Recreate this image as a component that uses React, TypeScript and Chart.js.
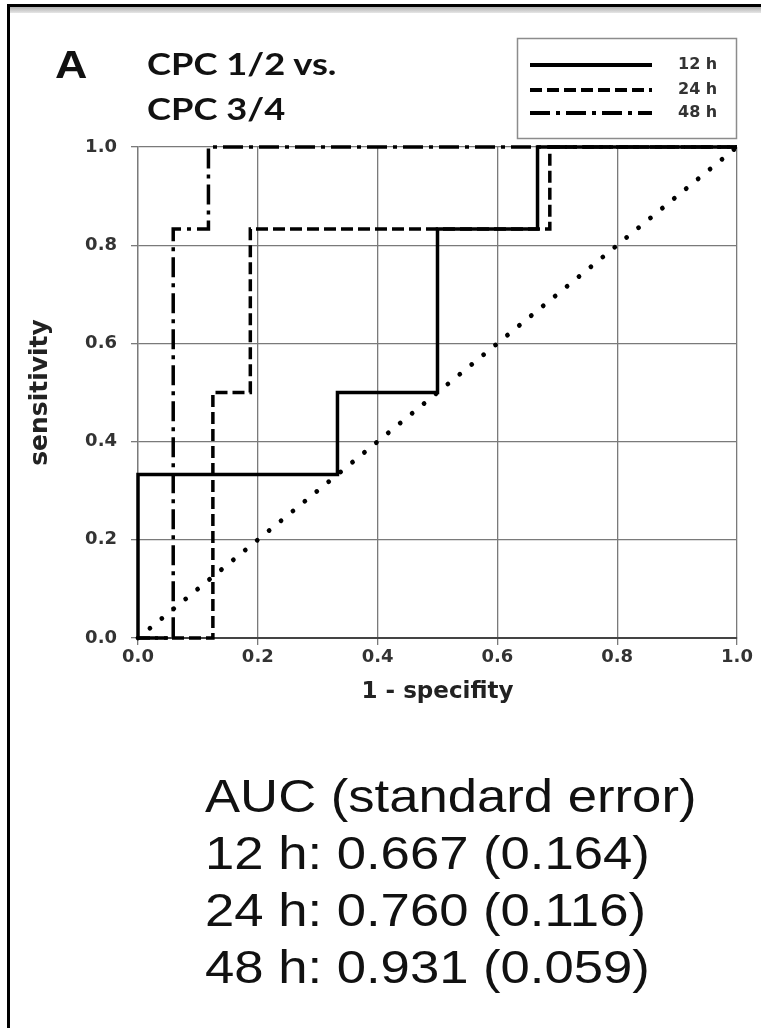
import React, { useEffect, useRef } from 'react';
import { Chart, registerables } from 'chart.js';

Chart.register(...registerables);

// ---- data ----
const SERIES_LABELS = ['12 h', '24 h', '48 h'];
const FPR_12H = [0, 0, 0.333, 0.333, 0.5, 0.5, 0.667, 0.667, 1.0];
const TPR_12H = [0, 0.333, 0.333, 0.5, 0.5, 0.833, 0.833, 1.0, 1.0];
const FPR_24H = [0, 0.125, 0.125, 0.1875, 0.1875, 0.6875, 0.6875, 1.0];
const TPR_24H = [0, 0, 0.5, 0.5, 0.833, 0.833, 1.0, 1.0];
const FPR_48H = [0, 0.0588, 0.0588, 0.1176, 0.1176, 1.0];
const TPR_48H = [0, 0, 0.833, 0.833, 1.0, 1.0];
const REF_X = [0, 1];
const REF_Y = [0, 1];
const AXIS_TICKS = [0, 0.2, 0.4, 0.6, 0.8, 1.0];
const X_TITLE = '1 - specifity';
const Y_TITLE = 'sensitivity';
const PANEL_LETTER = 'A';
const PANEL_TITLE = ['CPC 1/2 vs.', 'CPC 3/4'];
const AUC_LINES = [
  'AUC (standard error)',
  '12 h: 0.667 (0.164)',
  '24 h: 0.760 (0.116)',
  '48 h: 0.931 (0.059)',
];

const toPts = (xs: number[], ys: number[]) => xs.map((x, i) => ({ x, y: ys[i] }));

const GRID = '#7a7a7a';

const boxLegend = {
  id: 'boxLegend',
  afterDraw(chart: any) {
    const ctx = chart.ctx;
    ctx.save();
    ctx.strokeStyle = '#8c8c8c';
    ctx.lineWidth = 1.5;
    ctx.setLineDash([]);
    ctx.strokeRect(517.5, 38.5, 219, 100);
    const ys = [65, 90, 113];
    for (let i = 0; i < 3; i++) {
      const ds = chart.data.datasets[i];
      ctx.beginPath();
      ctx.setLineDash(ds.borderDash || []);
      ctx.lineWidth = 4;
      ctx.strokeStyle = ds.borderColor;
      ctx.lineCap = 'butt';
      ctx.moveTo(530, ys[i]);
      ctx.lineTo(652, ys[i]);
      ctx.stroke();
      ctx.setLineDash([]);
      ctx.fillStyle = '#333';
      ctx.font = 'bold 16px "DejaVu Sans"';
      ctx.textBaseline = 'middle';
      ctx.textAlign = 'left';
      ctx.fillText(ds.label, 678, ys[i]);
    }
    ctx.restore();
  },
};

export default function App() {
  const ref = useRef<HTMLCanvasElement | null>(null);

  useEffect(() => {
    if (!ref.current) return;
    const tickFont = { family: '"DejaVu Sans"', weight: 'bold' as const, size: 18 };
    const chart = new Chart(ref.current, {
      type: 'line',
      data: {
        datasets: [
          {
            label: SERIES_LABELS[0],
            data: toPts(FPR_12H, TPR_12H),
            borderColor: '#000',
            borderWidth: 3.5,
            borderJoinStyle: 'miter',
            pointRadius: 0,
            fill: false,
            clip: 6,
          },
          {
            label: SERIES_LABELS[1],
            data: toPts(FPR_24H, TPR_24H),
            borderColor: '#000',
            borderWidth: 3.5,
            borderDash: [12, 5],
            borderJoinStyle: 'miter',
            pointRadius: 0,
            fill: false,
            clip: 6,
          },
          {
            label: SERIES_LABELS[2],
            data: toPts(FPR_48H, TPR_48H),
            borderColor: '#000',
            borderWidth: 3.5,
            borderDash: [20, 6, 4, 6],
            borderJoinStyle: 'miter',
            pointRadius: 0,
            fill: false,
            clip: 6,
          },
          {
            label: 'reference',
            data: toPts(REF_X, REF_Y),
            borderColor: '#000',
            borderWidth: 4.8,
            borderDash: [0.01, 15.4],
            borderCapStyle: 'round',
            pointRadius: 0,
            fill: false,
            clip: 6,
          },
        ] as any,
      },
      options: {
        animation: false,
        responsive: false,
        layout: { padding: { left: 0, top: 147, right: 24, bottom: 310 } },
        plugins: { legend: { display: false }, tooltip: { enabled: false } },
        scales: {
          x: {
            type: 'linear',
            min: 0,
            max: 1,
            afterFit: (s: any) => { s.height = 80; },
            afterBuildTicks: (s: any) => { s.ticks = AXIS_TICKS.map((v) => ({ value: v })); },
            ticks: {
              callback: (v: any) => Number(v).toFixed(1),
              font: tickFont,
              color: '#333',
              padding: 2,
              maxRotation: 0,
            },
            grid: { color: GRID, lineWidth: 1.3, tickLength: 7, tickColor: GRID },
            border: { color: '#444', width: 2 },
            title: {
              display: true,
              text: X_TITLE,
              font: { family: '"DejaVu Sans"', weight: 'bold', size: 23 },
              color: '#222',
              padding: { top: 0, bottom: 12 },
            },
          },
          y: {
            type: 'linear',
            min: 0,
            max: 1,
            afterFit: (s: any) => { s.width = 138; },
            afterBuildTicks: (s: any) => { s.ticks = AXIS_TICKS.map((v) => ({ value: v })); },
            ticks: {
              callback: (v: any) => Number(v).toFixed(1),
              font: tickFont,
              color: '#333',
              padding: 14,
            },
            grid: { color: GRID, lineWidth: 1.3, tickLength: 7, tickColor: GRID },
            border: { color: GRID, width: 1.3 },
            title: {
              display: true,
              text: Y_TITLE,
              font: { family: '"DejaVu Sans"', weight: 'bold', size: 25 },
              color: '#222',
              padding: { top: 25, bottom: 0 },
            },
          },
        },
      } as any,
      plugins: [boxLegend],
    });
    return () => chart.destroy();
  }, []);

  return (
    <div style={{ position: 'absolute', left: 0, top: 0, width: 761, height: 1028, background: '#fff', overflow: 'hidden' }}>
      {/* frame */}
      <div style={{ position: 'absolute', left: 7, top: 4, width: 754, height: 3, background: '#000' }} />
      <div style={{ position: 'absolute', left: 9, top: 7, width: 752, height: 6, background: 'linear-gradient(#b0b0b0, #e6e6e6)' }} />
      <div style={{ position: 'absolute', left: 7, top: 4, width: 3, height: 1024, background: '#000' }} />

      <canvas ref={ref} width={761} height={1028} style={{ position: 'absolute', left: 0, top: 0, width: 761, height: 1028 }} />

      <div style={{ position: 'absolute', left: 55, top: 45, fontFamily: '"Liberation Sans", Arial, sans-serif', fontWeight: 'bold', fontSize: 39, lineHeight: '39px', color: '#111', transform: 'scaleX(1.15)', transformOrigin: 'left top', whiteSpace: 'nowrap' }}>
        {PANEL_LETTER}
      </div>
      <div style={{ position: 'absolute', left: 147, top: 40.5, fontFamily: 'Lato, sans-serif', fontWeight: 'bold', fontSize: 31, lineHeight: '45px', color: '#111', transform: 'scaleX(1.17)', transformOrigin: 'left top', whiteSpace: 'nowrap' }}>
        {PANEL_TITLE.map((t, i) => (<div key={i}>{t}</div>))}
      </div>

      <div style={{ position: 'absolute', left: 205, top: 767, fontFamily: '"Liberation Sans", Arial, sans-serif', fontSize: 47, lineHeight: '57px', color: '#111', transform: 'scaleX(1.12)', transformOrigin: 'left top', whiteSpace: 'nowrap' }}>
        {AUC_LINES.map((t, i) => (<div key={i}>{t}</div>))}
      </div>
    </div>
  );
}
